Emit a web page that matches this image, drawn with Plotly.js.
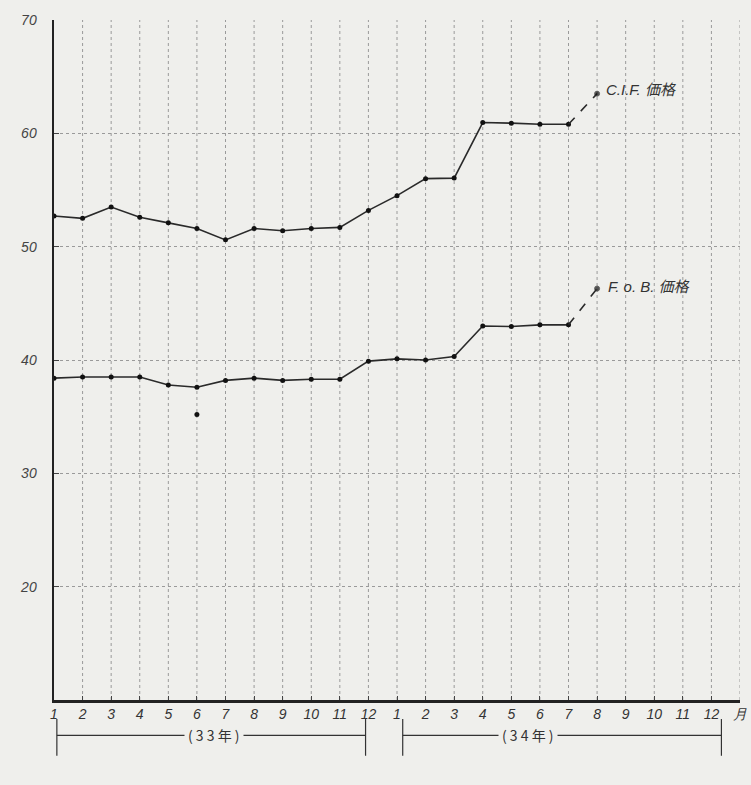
<!DOCTYPE html>
<html><head><meta charset="utf-8">
<script src="https://cdn.plot.ly/plotly-3.0.1.min.js"></script>
<style>html,body{margin:0;padding:0;background:#efefec;}</style>
</head><body>
<div id="chart" style="width:751px;height:785px;"></div>
<script>
// Month tick labels (昭和33年 1-12, 34年 1-12, then unit 月)
const monthLabels = ['1','2','3','4','5','6','7','8','9','10','11','12',
                     '1','2','3','4','5','6','7','8','9','10','11','12','月'];
// C.I.F. price, 33年1月 .. 34年7月 (solid line)
const cifPrice = [52.7,52.5,53.5,52.6,52.1,51.6,50.6,51.6,51.4,51.6,51.7,53.2,
                  54.5,56.0,56.05,60.95,60.9,60.8,60.8];
// C.I.F. estimate for 34年8月 (dashed)
const cifEstimate = 63.5;
// F.O.B. price, 33年1月 .. 34年7月 (solid line)
const fobPrice = [38.4,38.5,38.5,38.5,37.8,37.6,38.2,38.4,38.2,38.3,38.3,39.9,
                  40.1,40.0,40.3,43.0,42.95,43.1,43.1];
// F.O.B. estimate for 34年8月 (dashed)
const fobEstimate = 46.3;
// Stray point under 33年6月
const strayValue = 35.2;
const strayMonthIndex = 5;
const yTicks = [20,30,40,50,60,70];
const seriesNames = ['C.I.F. 価格','F. o. B. 価格'];
const yearLabels = ['( 3 3 年 )','( 3 4 年 )'];

const xIdx = monthLabels.map((_, i) => i);
const solidX = cifPrice.map((_, i) => i);
const lastI = cifPrice.length - 1;

const lineStyle = {color:'#2a2a2a', width:1.6};
const mk = {color:'#111', size:5};
const font = {family:'Liberation Sans, DejaVu Sans, Noto Sans CJK JP', color:'#333'};

const traces = [
  {x: solidX, y: cifPrice, mode:'lines+markers', line: lineStyle, marker: mk, hoverinfo:'skip'},
  {x: [lastI, lastI+1], y: [cifPrice[lastI], cifEstimate], mode:'lines+markers',
   line:{color:'#2a2a2a', width:1.6, dash:'dash'}, marker:{color:'#111', size:[0,5]}, hoverinfo:'skip'},
  {x: solidX, y: fobPrice, mode:'lines+markers', line: lineStyle, marker: mk, hoverinfo:'skip'},
  {x: [lastI, lastI+1], y: [fobPrice[lastI], fobEstimate], mode:'lines+markers',
   line:{color:'#2a2a2a', width:1.6, dash:'dash'}, marker:{color:'#111', size:[0,5]}, hoverinfo:'skip'},
  {x: [strayMonthIndex], y: [strayValue], mode:'markers', marker: mk, hoverinfo:'skip'}
];

const gridShapes = [];
// vertical dotted grid lines
for (let i = 1; i < monthLabels.length; i++) {
  gridShapes.push({type:'line', xref:'x', yref:'paper', x0:i, x1:i, y0:0, y1:1,
    line:{color:'#9a9a9a', width:1, dash:'dot'}, layer:'below'});
}
// bracket lines under axis
const bline = {color:'#333', width:1.2};
const by = -0.052;
[[0.1,10.9],[12.2,23.35]].forEach(([a,b]) => {
  gridShapes.push({type:'line', xref:'x', yref:'paper', x0:a, x1:b, y0:by, y1:by, line:bline});
  gridShapes.push({type:'line', xref:'x', yref:'paper', x0:a, x1:a, y0:-0.028, y1:-0.082, line:bline});
  gridShapes.push({type:'line', xref:'x', yref:'paper', x0:b, x1:b, y0:-0.028, y1:-0.082, line:bline});
});

const layout = {
  width: 751, height: 785,
  margin: {l:54, r:11, t:20, b:85},
  paper_bgcolor:'#efefec', plot_bgcolor:'#efefec',
  showlegend:false,
  font: font,
  xaxis: {
    range:[0, 24], tickvals: xIdx, ticktext: monthLabels,
    tickfont:{family:'Liberation Sans', size:14, color:'#333', style:'italic'},
    showgrid:false, zeroline:false,
    showline:true, linecolor:'#222', linewidth:2.5,
    ticks:'inside', ticklen:4, tickcolor:'#444', tickangle:0
  },
  yaxis: {
    range:[10, 70], tickvals: yTicks, ticktext: yTicks.map(String),
    tickfont:{family:'Liberation Sans', size:14, color:'#444', style:'italic'},
    showgrid:true, gridcolor:'#9a9a9a', griddash:'dot', gridwidth:1,
    zeroline:false, showline:true, linecolor:'#222', linewidth:2.5,
    ticks:'inside', ticklen:5, tickcolor:'#444', ticklabelstandoff:12
  },
  shapes: gridShapes,
  annotations: [
    {x: lastI+1.25, y: cifEstimate+0.4, xref:'x', yref:'y', text: seriesNames[0], showarrow:false,
     xanchor:'left', yanchor:'middle', font:{family:'Liberation Sans, Noto Sans CJK JP', size:15, color:'#333', style:'italic'}},
    {x: lastI+1.3, y: fobEstimate+0.2, xref:'x', yref:'y', text: seriesNames[1], showarrow:false,
     xanchor:'left', yanchor:'middle', font:{family:'Liberation Sans, Noto Sans CJK JP', size:15, color:'#333', style:'italic'}},
    {x: 5.6, y: by, xref:'x', yref:'paper', text: yearLabels[0], showarrow:false, bgcolor:'#efefec',
     yanchor:'middle', borderpad:3, font:{family:'Noto Sans CJK JP', size:14, color:'#333'}},
    {x: 16.6, y: by, xref:'x', yref:'paper', text: yearLabels[1], showarrow:false, bgcolor:'#efefec',
     yanchor:'middle', borderpad:3, font:{family:'Noto Sans CJK JP', size:14, color:'#333'}}
  ]
};

Plotly.newPlot('chart', traces, layout, {displayModeBar:false, staticPlot:true});
</script>
</body></html>
